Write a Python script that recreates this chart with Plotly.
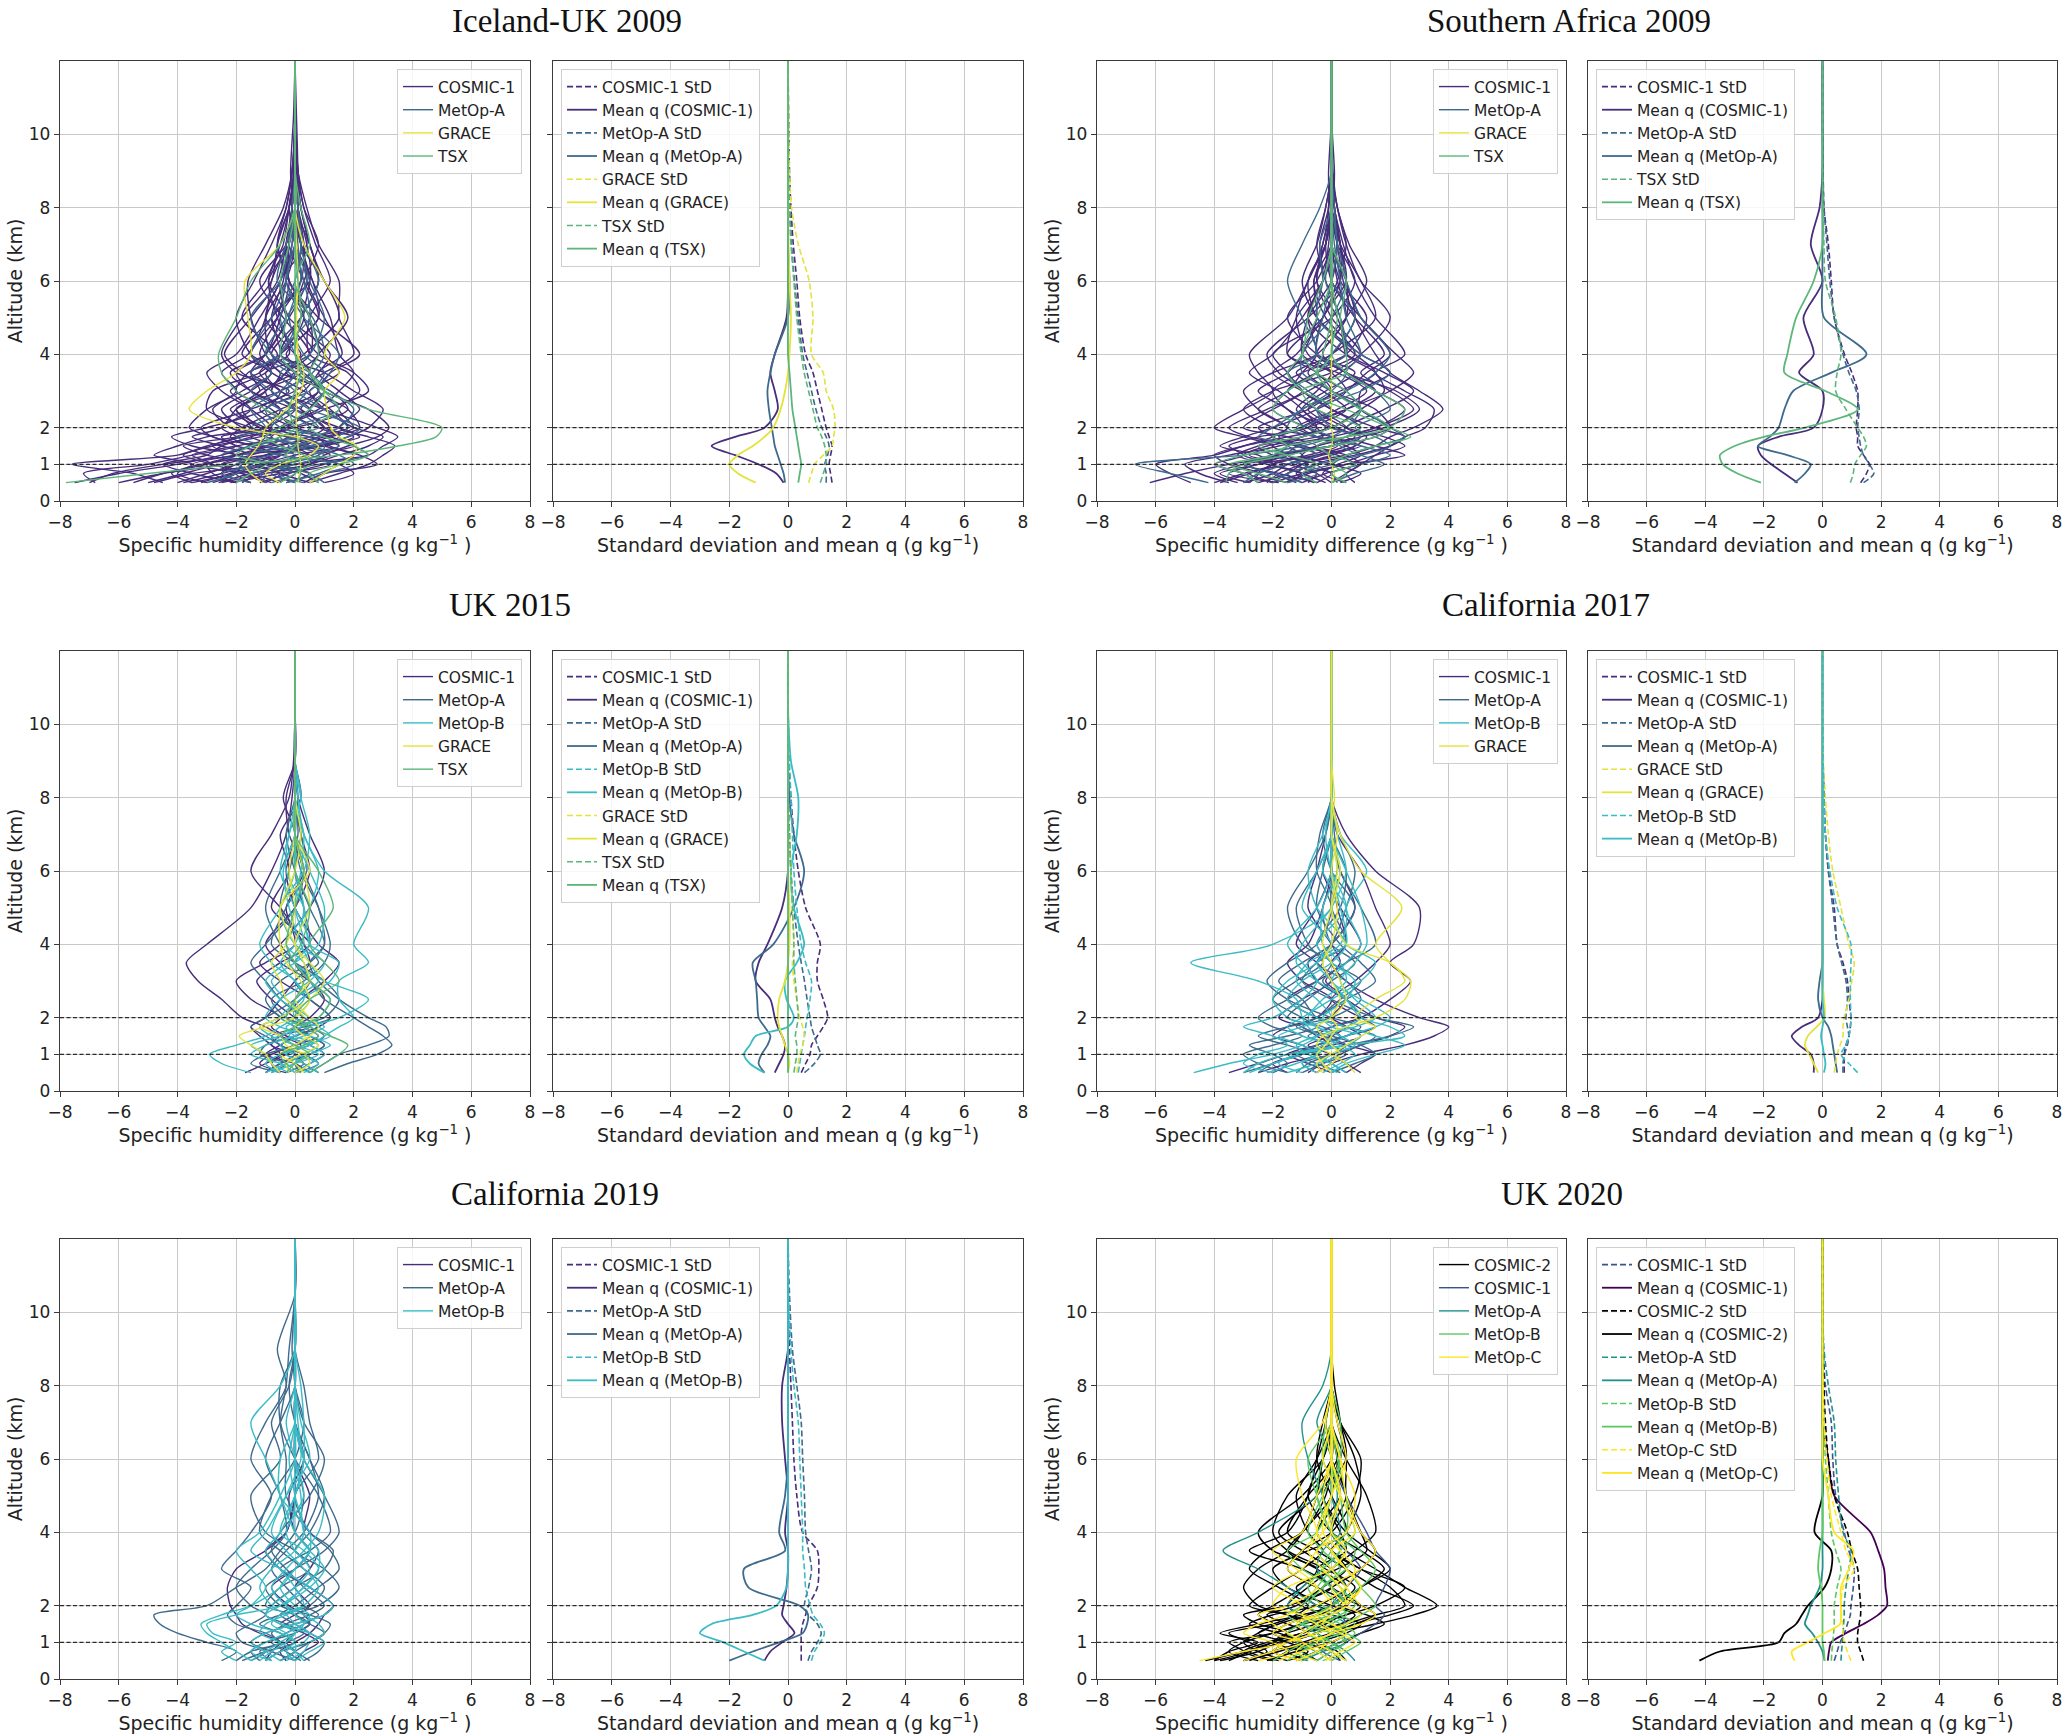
import plotly.graph_objects as go

W, H = 2067, 1736

# altitude levels (km) shared by every profile
ALT = [0.5, 0.75, 1.0, 1.25, 1.5, 1.75, 2.0, 2.5, 3.0, 3.5, 4.0, 5.0, 6.0, 7.0, 8.0, 9.0, 10.5, 12.0]
REF_ALT = [1, 2]
X_TICKS = [-8, -6, -4, -2, 0, 2, 4, 6, 8]
Y_TICKS = [0, 1, 2, 4, 6, 8, 10]

SAT_COLORS = {"COSMIC-1": "#472d7b", "MetOp-A": "#3e6a8c", "MetOp-B": "#3bbcc5",
              "GRACE": "#e5e23b", "TSX": "#5db67a"}
SAT_COLORS_2020 = {"COSMIC-2": "#000000", "COSMIC-1": "#3b528b", "MetOp-A": "#21918c",
                   "MetOp-B": "#5ec962", "MetOp-C": "#fde725"}
MEAN_COLORS_2020 = {"COSMIC-2": "#000000", "COSMIC-1": "#440154", "MetOp-A": "#21918c",
                    "MetOp-B": "#5ec962", "MetOp-C": "#fde725"}

# ---------------- Iceland-UK 2009 ----------------
ICE_C1 = [
    [-7.5, -6.0, -4.0, -2.5, -1.5, -1.0, -1.8, -2.5, -1.5, -0.8, -1.2, -0.6, -0.3, -0.2, -0.1, -0.05, 0.0, 0.0],
    [-6.8, -7.2, -5.0, -3.5, -2.0, -2.8, -3.6, -3.0, -2.0, -2.5, -1.6, -1.0, -0.8, -0.3, -0.1, -0.15, -0.05, 0.0],
    [-4.5, -5.5, -7.6, -4.0, -3.0, -2.0, -2.5, -1.5, -2.2, -1.0, -0.5, -0.8, -0.4, -0.2, 0.0, 0.0, 0.0, 0.0],
    [-3.0, -4.0, -3.5, -4.8, -4.0, -3.0, -1.5, -2.0, -1.0, -1.8, -2.4, -1.5, -0.6, -0.3, -0.1, 0.0, 0.0, 0.0],
    [-2.0, -2.8, -3.0, -2.0, -3.5, -4.2, -3.0, -1.0, -0.5, -1.5, -1.0, -0.3, -0.9, -0.4, -0.2, 0.0, 0.0, 0.0],
    [-1.5, -2.0, -1.0, -2.5, -1.5, -0.8, -1.5, -3.0, -2.8, -1.2, -0.6, -1.8, -1.0, -0.5, -0.2, -0.05, 0.0, 0.0],
    [-1.0, -0.5, -1.5, -0.5, -2.0, -2.5, -1.0, -0.5, -1.5, -2.0, -1.0, -0.5, -0.2, -0.6, -0.3, -0.1, 0.0, 0.0],
    [-0.5, -1.5, -2.5, -1.5, -0.5, 0.5, 1.0, 0.2, -0.8, -0.3, 0.5, -0.4, -1.2, -0.3, -0.1, 0.0, 0.0, 0.0],
    [0.0, -0.8, 0.5, 1.5, 2.5, 3.0, 2.0, 1.0, 0.5, 1.5, 1.0, 0.3, 0.5, 0.2, 0.1, 0.1, 0.05, 0.0],
    [0.5, 1.5, 2.5, 3.0, 3.4, 2.5, 1.5, 2.2, 1.5, 0.8, 1.6, 1.0, 0.4, 0.3, 0.1, 0.0, 0.0, 0.0],
    [-2.5, -1.0, 0.5, 1.0, 1.8, 2.8, 3.2, 2.5, 1.0, 0.5, 0.8, 1.8, 1.0, 0.5, 0.2, 0.05, 0.0, 0.0],
    [-3.5, -2.0, -0.5, 0.5, 0.0, 1.0, 2.0, 1.5, 2.2, 1.8, 0.5, 0.5, 1.2, 0.7, 0.3, 0.1, 0.0, 0.0],
    [-1.2, -0.2, 1.0, 2.0, 1.0, 0.0, -0.5, 0.8, 1.5, 2.0, 1.5, 1.2, 0.6, 0.2, 0.0, 0.0, 0.0, 0.0],
    [-4.0, -3.0, -2.0, -1.0, 0.5, 1.5, 0.8, -0.5, -1.0, 0.2, -0.3, 0.8, 0.3, -0.2, 0.0, 0.0, 0.0, 0.0],
    [-5.5, -4.5, -3.0, -2.0, -1.0, -0.2, 0.2, -1.0, 0.3, 0.8, 1.2, -0.2, -0.5, 0.4, 0.2, 0.0, 0.0, 0.0],
    [-0.3, 0.5, -0.5, -1.0, 0.8, 1.8, 2.5, 3.0, 2.0, 1.0, -0.5, 0.2, 0.8, 0.5, 0.0, 0.0, 0.0, 0.0],
    [-2.0, -3.5, -4.5, -3.0, -2.5, -1.5, -0.8, -1.5, -2.5, -3.0, -2.0, -1.2, -0.5, -0.2, -0.1, 0.0, 0.0, 0.0],
    [-3.8, -2.5, -1.5, -3.0, -3.8, -2.0, -1.0, 0.0, -0.8, -0.5, -1.5, -2.0, -1.4, -0.8, -0.3, -0.1, 0.0, 0.0],
    [0.8, 0.2, -1.0, 0.0, 1.5, 0.5, -1.0, -2.0, -0.5, 0.5, 0.0, -1.0, -0.5, 0.0, 0.1, 0.0, 0.0, 0.0],
    [-1.8, -1.2, 0.0, 2.5, 3.0, 3.5, 2.8, 1.0, -0.5, -1.0, 0.5, 0.5, -0.2, -0.6, -0.2, 0.0, 0.0, 0.0],
    [-6.0, -4.5, -2.5, -1.5, -2.5, -3.5, -2.5, -2.0, -1.0, -0.3, 0.3, 1.5, 1.0, 0.2, 0.0, 0.0, 0.0, 0.0],
    [-2.8, -2.0, -1.8, -1.0, -0.2, -1.0, -2.2, -2.8, -1.8, -0.8, -1.8, -0.8, 0.2, 0.0, -0.2, 0.0, 0.0, 0.0],
    [-0.8, -1.8, -3.5, -2.0, 1.0, 2.0, 1.0, 0.5, 1.0, -0.5, -1.0, -1.5, -1.6, -1.0, -0.4, -0.1, 0.0, 0.0],
    [1.0, 2.0, 1.5, 0.5, -0.5, -1.5, -0.5, 1.0, 2.5, 2.0, 0.8, 0.0, 0.3, 0.8, 0.3, 0.1, 0.0, 0.0],
    [-4.8, -3.5, -1.0, 0.0, -1.2, -2.8, -3.2, -1.5, -0.2, -2.0, -2.5, -1.8, -0.8, -0.6, -0.2, 0.0, 0.0, 0.0],
    [-2.2, -0.5, 1.2, 0.8, 2.0, 1.2, 0.0, -1.2, 0.0, 1.0, 2.0, 1.5, 1.5, 0.8, 0.4, 0.1, 0.0, 0.0],
    [-3.2, -2.2, -1.2, -0.5, -1.5, -2.2, -1.8, -0.5, 0.8, 0.3, -0.8, -1.0, -0.3, 0.0, 0.0, 0.0, 0.0, 0.0],
    [-1.5, -2.5, -2.0, -0.5, 0.5, -0.3, -1.2, -1.8, -1.2, 0.0, 0.8, 0.5, -0.2, -0.3, -0.1, 0.0, 0.0, 0.0],
    [0.3, 1.0, 2.8, 2.2, 1.2, 0.8, 1.8, 1.2, 0.3, -0.8, -1.5, -0.6, 0.2, 0.3, 0.1, 0.0, 0.0, 0.0],
    [-5.0, -3.8, -2.8, -3.5, -2.0, -0.5, -1.2, -2.2, -1.2, -1.5, -0.5, 0.3, -0.3, -0.1, 0.0, 0.0, 0.0, 0.0],
    [-0.6, 0.0, -0.8, -2.0, -2.8, -1.8, 0.0, 1.8, 1.2, -0.3, 0.2, -0.8, 0.5, 0.4, 0.1, 0.0, 0.0, 0.0],
    [-2.6, -1.5, 0.0, 1.2, 0.3, -0.8, -0.3, 0.5, -0.5, -1.2, -0.5, 0.8, 0.6, 0.0, -0.1, 0.0, 0.0, 0.0],
    [-7.0, -6.2, -4.5, -2.0, -0.8, 0.8, 1.2, 0.0, -1.5, -2.2, -1.0, -0.2, 0.4, 0.2, 0.0, 0.0, 0.0, 0.0],
    [0.5, -0.5, -1.2, -0.8, 0.2, 1.2, 2.2, 1.8, 0.8, 1.2, 2.2, 0.8, -0.2, -0.3, 0.0, 0.0, 0.0, 0.0],
    [-1.0, -1.8, -2.8, -3.8, -2.8, -1.2, -0.2, -0.8, -2.0, -1.6, -0.2, -0.6, -0.9, -0.2, 0.0, 0.0, 0.0, 0.0],
    [-3.5, -4.2, -3.2, -1.0, 0.8, 2.2, 1.5, 0.2, 0.8, 0.0, -0.8, 0.2, 0.8, 0.5, 0.2, 0.1, 0.0, 0.0],
]
ICE_MA = [
    [-1.5, -2.5, -1.0, 0.5, 1.5, 1.0, -0.5, -1.0, 0.5, 1.0, 0.3, -0.2, 0.2, 0.1, 0.0, 0.0, 0.0, 0.0],
    [0.5, 1.0, 2.0, 1.5, 0.5, -1.0, -1.5, 0.0, 1.0, 0.5, -0.5, 0.5, 0.3, 0.0, 0.0, 0.0, 0.0, 0.0],
    [-3.0, -2.0, -1.5, -2.5, -1.5, 0.0, 0.5, -0.5, -1.5, -0.8, -1.5, -0.8, -0.3, -0.1, 0.0, 0.0, 0.0, 0.0],
    [0.0, -0.5, 0.8, 2.5, 2.0, 1.5, 1.8, 1.0, 0.0, -0.5, 0.5, 1.0, 0.5, 0.2, 0.1, 0.0, 0.0, 0.0],
    [-0.8, 0.0, -1.0, -1.8, 0.0, 0.8, 0.0, 1.5, 0.8, 1.2, 1.5, 0.3, -0.3, 0.0, 0.0, 0.0, 0.0, 0.0],
    [1.0, 0.5, -0.5, 0.0, -1.0, -2.0, -1.0, -1.5, -0.5, 0.0, -0.8, -1.5, -0.5, -0.2, -0.1, 0.0, 0.0, 0.0],
    [-2.0, -1.5, 0.0, 1.0, 0.0, -0.5, 0.8, 0.0, -0.8, -1.5, -0.5, 0.2, 0.8, 0.3, 0.1, 0.0, 0.0, 0.0],
    [-0.3, 0.8, 1.5, -0.5, -1.5, 0.5, 1.5, 2.0, 1.2, 0.2, 0.0, -0.5, 0.0, 0.2, 0.0, 0.0, 0.0, 0.0],
    [-1.0, -1.2, -2.0, -0.8, 0.5, 1.8, 2.2, 0.5, -0.3, 0.6, 1.0, 0.6, -0.6, -0.3, 0.0, 0.0, 0.0, 0.0],
    [0.3, -0.8, -0.3, 0.8, 1.0, -0.2, -0.8, -0.2, 0.4, -0.2, -1.0, -0.3, 0.4, 0.0, 0.0, 0.0, 0.0, 0.0],
]
ICE_GR = [
    [0.1, 0.15, 0.2, 0.15, 0.1, 0.1, 0.05, 0.05, 0.05, 0.1, 0.1, 0.05, 0.1, 0.05, 0.0, 0.0, 0.0, 0.0],
    [-1.1, -1.5, -1.7, -1.5, -1.25, -1.1, -1.0, -0.3, 0.2, 0.3, 0.1, 0.0, 0.1, 0.0, 0.0, 0.0, 0.0, 0.0],
    [-0.5, -1.0, -0.5, 0.5, 0.8, 0.0, -2.0, -3.6, -3.0, -2.0, -1.5, -1.6, -1.7, -0.5, 0.0, 0.0, 0.0, 0.0],
    [0.5, 1.0, 1.5, 2.0, 2.1, 1.5, 1.2, 1.1, 1.0, 1.5, 1.0, 1.7, 1.0, 0.3, 0.0, 0.0, 0.0, 0.0],
]
ICE_TSX = [
    [-7.8, -5.0, -2.0, 1.5, 3.5, 4.8, 5.0, 2.5, 1.0, 0.0, -0.5, -0.3, -0.5, -0.2, 0.0, 0.0, 0.0, 0.0],
    [-0.5, 0.0, 0.5, 0.3, -0.5, -1.0, -0.5, 0.5, 1.0, 0.5, 0.0, 0.2, 0.1, 0.0, 0.0, 0.0, 0.0, 0.0],
    [-2.0, -1.5, -1.0, -2.0, -1.5, -0.5, 0.0, -1.0, -2.0, -2.5, -2.6, -2.0, -1.5, -0.5, 0.0, 0.0, 0.0, 0.0],
    [0.8, 0.5, 1.5, 2.5, 2.0, 1.0, 0.5, 1.5, 1.0, 0.5, 0.8, 0.5, 0.0, 0.5, 0.2, 0.0, 0.0, 0.0],
    [0.0, 0.2, 0.0, -0.3, 0.0, 0.2, 0.0, -0.2, 0.0, 0.2, 0.0, 0.0, 0.0, 0.0, 0.0, 0.0, 0.0, 0.0],
]
ICE_STD = {
    "COSMIC-1": [1.5, 1.45, 1.4, 1.45, 1.5, 1.4, 1.3, 1.15, 1.0, 0.85, 0.6, 0.4, 0.3, 0.18, 0.1, 0.05, 0.02, 0.0],
    "MetOp-A": [1.3, 1.3, 1.25, 1.35, 1.4, 1.3, 1.15, 0.95, 0.8, 0.65, 0.5, 0.35, 0.22, 0.12, 0.06, 0.03, 0.01, 0.0],
    "GRACE": [0.7, 0.8, 0.9, 1.2, 1.5, 1.55, 1.6, 1.55, 1.3, 1.2, 0.8, 0.85, 0.72, 0.35, 0.12, 0.05, 0.02, 0.0],
    "TSX": [1.1, 1.2, 1.3, 1.3, 1.25, 1.15, 1.0, 0.85, 0.7, 0.55, 0.45, 0.3, 0.2, 0.1, 0.05, 0.02, 0.0, 0.0],
}
ICE_MEAN = {
    "COSMIC-1": [-0.15, -0.4, -1.0, -1.8, -2.6, -1.8, -0.8, -0.35, -0.45, -0.6, -0.45, -0.05, 0.0, 0.0, 0.0, 0.0, 0.0, 0.0],
    "MetOp-A": [-0.1, -0.15, -0.25, -0.35, -0.45, -0.5, -0.55, -0.65, -0.7, -0.6, -0.45, 0.0, 0.05, 0.0, 0.0, 0.0, 0.0, 0.0],
    "GRACE": [-1.1, -1.7, -2.0, -1.7, -1.2, -0.8, -0.5, -0.25, -0.1, 0.0, 0.05, 0.1, 0.05, 0.02, 0.0, 0.0, 0.0, 0.0],
    "TSX": [0.35, 0.4, 0.45, 0.4, 0.35, 0.3, 0.25, 0.15, 0.1, 0.05, 0.0, 0.0, 0.0, 0.0, 0.0, 0.0, 0.0, 0.0],
}

# ---------------- Southern Africa 2009 ----------------
SA_C1 = [
    [-4.8, -5.5, -6.0, -4.0, -3.0, -2.0, -1.5, -2.5, -1.5, -1.0, -0.5, -0.8, -0.3, -0.1, 0.0, 0.0, 0.0, 0.0],
    [-3.5, -4.5, -5.0, -3.5, -2.0, -3.0, -4.0, -3.0, -2.0, -2.5, -2.8, -1.5, -0.8, -0.3, -0.1, -0.1, 0.0, 0.0],
    [-2.5, -3.0, -4.0, -3.0, -3.5, -2.5, -1.0, -1.5, -2.5, -1.5, -1.0, -0.5, -0.6, -0.2, 0.0, 0.0, 0.0, 0.0],
    [-1.5, -2.5, -2.0, -1.0, -1.5, -2.0, -2.5, -0.8, 0.0, -0.5, -1.5, -1.2, -0.3, 0.0, 0.0, 0.0, 0.0, 0.0],
    [-1.0, -1.5, -0.5, -2.0, -2.5, -1.0, 0.0, 1.0, 0.5, -0.5, 0.5, 0.2, -0.5, -0.2, 0.0, 0.0, 0.0, 0.0],
    [-0.5, 0.0, -1.0, 0.5, 1.5, 2.0, 2.8, 3.8, 3.0, 2.0, 1.5, 0.8, 0.4, 0.2, 0.0, 0.0, 0.0, 0.0],
    [0.0, 0.5, 1.0, 1.5, 2.0, 2.5, 3.2, 3.5, 2.5, 1.5, 2.5, 1.5, 0.8, 0.4, 0.1, 0.1, 0.0, 0.0],
    [0.5, -0.3, 0.2, 1.0, 0.5, -0.5, -1.0, 0.5, 2.0, 2.8, 2.2, 1.0, 0.5, 0.3, 0.1, 0.0, 0.0, 0.0],
    [-2.0, -1.0, 0.5, 2.5, 1.5, 0.5, 1.5, 2.5, 1.5, 0.5, -0.5, 0.5, 1.2, 0.6, 0.2, 0.0, 0.0, 0.0],
    [-3.0, -2.0, -1.5, -0.5, 0.5, 1.0, 0.0, -1.5, -2.0, -1.0, 0.5, 1.2, 0.3, 0.0, 0.0, 0.0, 0.0, 0.0],
    [-1.8, -3.5, -2.5, -1.5, -0.5, -1.5, -3.0, -2.0, -0.8, 0.3, 1.0, 0.0, -0.5, -0.3, 0.0, 0.0, 0.0, 0.0],
    [-0.8, -0.5, -1.5, -2.8, -1.8, 0.0, 1.0, 0.0, -1.0, -2.0, -1.2, -0.3, 0.2, 0.5, 0.2, 0.05, 0.0, 0.0],
    [0.3, 1.0, 0.0, -1.0, -0.5, 1.0, 2.0, 1.0, 1.0, 2.0, 1.0, -0.5, -1.0, -0.5, -0.2, 0.0, 0.0, 0.0],
    [-4.0, -3.0, -2.0, -2.5, -3.8, -3.0, -2.0, -0.5, 0.5, 0.0, -1.0, -0.8, 0.0, 0.2, 0.1, 0.0, 0.0, 0.0],
    [-2.2, -1.8, -1.0, 0.0, -1.0, -2.0, -1.5, -2.5, -3.0, -2.0, -0.5, 0.5, 0.5, 0.0, -0.1, 0.0, 0.0, 0.0],
    [-1.2, -2.0, -3.0, -2.0, 0.0, 1.5, 2.0, 1.5, 0.0, -0.8, 0.0, 1.5, 1.0, 0.3, 0.0, 0.0, 0.0, 0.0],
    [0.8, 0.5, 1.0, 0.5, -0.5, 0.5, 1.5, 2.8, 2.0, 1.0, 1.8, 0.8, 0.0, -0.2, 0.0, 0.0, 0.0, 0.0],
    [-3.2, -4.0, -3.0, -1.5, -2.0, -1.0, -0.5, -1.0, -1.8, -2.8, -2.0, -1.0, -0.3, -0.4, -0.1, 0.0, 0.0, 0.0],
    [-0.2, -1.0, -2.0, -0.5, 1.0, 0.0, -0.8, 0.5, 1.5, 0.5, -0.5, -0.3, 0.5, 0.3, 0.0, 0.0, 0.0, 0.0],
    [-2.8, -2.5, -3.5, -4.0, -3.0, -1.5, 0.0, 1.0, 1.8, 1.5, 0.5, 0.3, -0.2, -0.5, -0.2, 0.0, 0.0, 0.0],
    [-1.5, -0.8, 0.5, 1.5, 2.5, 1.8, 0.5, -0.5, 0.5, 1.2, 2.0, 1.0, 0.0, 0.0, 0.1, 0.0, 0.0, 0.0],
    [-0.6, -1.2, -0.8, -1.5, -1.2, -0.3, -0.5, -1.2, -0.5, 0.0, -0.8, -1.2, -0.8, -0.2, 0.0, 0.0, 0.0, 0.0],
    [-2.5, -1.5, -1.0, 0.0, 0.8, -0.5, -2.0, -3.0, -2.0, 0.0, 1.0, 2.0, 1.0, 0.5, 0.2, 0.0, 0.0, 0.0],
    [0.2, 0.0, -0.5, 0.8, 2.0, 2.5, 1.5, 0.0, -1.0, -1.5, -2.0, 0.0, 0.8, 0.2, 0.0, 0.0, 0.0, 0.0],
    [-2.0, -2.8, -1.5, -0.5, -1.2, -2.8, -3.5, -2.2, -1.0, -1.8, -2.2, -0.8, 0.3, 0.0, 0.0, 0.0, 0.0, 0.0],
    [-0.5, -1.8, -3.0, -1.8, 0.0, 0.8, 0.2, -0.8, 0.3, 1.5, 0.8, -0.5, -0.8, -0.2, 0.0, 0.0, 0.0, 0.0],
    [-6.2, -5.0, -3.5, -1.5, -0.5, 0.5, 1.8, 3.0, 2.2, 0.5, -0.3, 0.5, 0.2, 0.0, 0.0, 0.0, 0.0, 0.0],
    [-1.0, -0.2, 0.8, 0.2, -1.0, -1.8, -0.8, 0.5, -0.3, -1.2, 0.0, 0.8, 0.5, 0.3, 0.0, 0.0, 0.0, 0.0],
    [-3.8, -2.8, -2.0, -3.0, -2.2, -0.5, 0.5, -0.5, -1.5, -0.5, 0.8, -0.2, -0.6, 0.0, 0.0, 0.0, 0.0, 0.0],
    [0.0, -0.5, -1.2, -0.3, 0.8, 1.2, 0.5, 1.8, 2.8, 1.8, 0.5, -0.8, -0.3, 0.2, 0.0, 0.0, 0.0, 0.0],
    [-1.6, -1.0, -2.2, -3.2, -2.5, -1.0, -0.2, -1.0, -0.2, 0.8, -0.5, -1.5, -0.5, 0.0, 0.0, 0.0, 0.0, 0.0],
    [-2.8, -3.8, -2.5, -0.8, 0.2, -0.5, -1.2, 0.2, 1.2, 0.2, -1.5, -0.3, 0.3, 0.3, 0.1, 0.0, 0.0, 0.0],
]
SA_MA = [
    [-4.2, -5.5, -6.7, -3.0, -1.0, 0.0, 0.5, 1.0, 0.0, -0.5, 0.5, 0.3, -0.2, 0.0, 0.0, 0.0, 0.0, 0.0],
    [-2.0, -1.5, -0.5, 1.0, 2.0, 1.5, 0.8, 2.0, 1.5, 0.5, 1.0, 0.5, 0.3, 0.1, 0.0, 0.0, 0.0, 0.0],
    [-1.0, -2.0, -3.0, -2.0, -1.5, -2.0, -1.0, 0.0, -0.8, -1.5, -0.5, -1.0, -1.5, -1.0, -0.4, 0.0, 0.0, 0.0],
    [0.5, 0.0, 1.0, 2.0, 1.0, -0.5, -1.5, -1.0, 0.5, 1.5, 2.0, 1.0, 0.5, 0.0, 0.0, 0.0, 0.0, 0.0],
    [-3.0, -2.5, -1.5, -0.5, -1.0, -2.5, -2.0, -1.0, 0.0, 0.5, -0.5, -0.3, 0.0, 0.2, 0.0, 0.0, 0.0, 0.0],
    [-0.5, -1.0, 0.0, 0.5, 1.5, 2.5, 2.0, 1.0, 0.0, -1.0, -1.0, 0.0, 0.5, 0.2, 0.1, 0.0, 0.0, 0.0],
    [-1.5, -0.5, -1.0, -2.0, 0.0, 1.0, 0.0, -0.5, 1.0, 2.0, 1.0, -0.5, -0.3, -0.4, 0.0, 0.0, 0.0, 0.0],
    [0.0, 0.8, 1.8, 1.0, 0.3, 0.0, -0.8, -2.0, -1.5, -0.5, 0.0, 0.8, 0.0, 0.0, 0.0, 0.0, 0.0, 0.0],
]
SA_GR = [
    [0.0, 0.1, 0.0, -0.1, 0.0, 0.05, 0.0, 0.0, 0.0, 0.0, 0.0, 0.0, 0.0, 0.0, 0.0, 0.0, 0.0, 0.0],
]
SA_TSX = [
    [-3.6, -3.5, -3.0, -1.5, 0.0, 1.5, 2.0, 1.0, 0.0, -0.5, -0.3, 0.0, 0.0, 0.0, 0.0, 0.0, 0.0, 0.0],
    [-1.5, -2.5, -3.5, -2.0, -1.5, 0.5, 2.0, 2.5, 1.5, 0.5, 0.0, 0.2, 0.0, 0.0, 0.0, 0.0, 0.0, 0.0],
    [-0.5, -1.0, -0.5, -1.5, -2.5, -1.0, 0.0, 1.0, 0.5, -0.5, -1.0, -0.5, 0.0, 0.0, 0.0, 0.0, 0.0, 0.0],
    [0.0, 0.5, 0.0, 0.5, 1.5, 2.7, 2.0, 0.5, -1.0, -1.5, -1.0, -0.8, -0.3, 0.0, 0.0, 0.0, 0.0, 0.0],
    [-2.5, -3.0, -4.0, -3.0, -1.5, -2.0, -1.0, -2.0, -1.5, -0.5, 0.0, 0.0, 0.0, 0.0, 0.0, 0.0, 0.0, 0.0],
    [0.5, 0.0, 0.8, 0.0, -0.5, 0.5, 1.0, -0.5, -1.0, 0.5, 0.5, 0.3, 0.5, 0.0, 0.0, 0.0, 0.0, 0.0],
]
SA_STD = {
    "COSMIC-1": [1.3, 1.5, 1.6, 1.4, 1.2, 1.2, 1.15, 1.2, 1.2, 1.0, 0.75, 0.4, 0.3, 0.2, 0.05, 0.02, 0.0, 0.0],
    "MetOp-A": [1.4, 1.75, 1.6, 1.4, 1.3, 1.25, 1.2, 1.25, 1.15, 0.9, 0.7, 0.4, 0.25, 0.15, 0.05, 0.02, 0.0, 0.0],
    "TSX": [0.95, 1.05, 1.1, 1.3, 1.5, 1.4, 1.2, 0.8, 0.45, 0.5, 0.63, 0.45, 0.1, 0.05, 0.02, 0.0, 0.0, 0.0],
}
SA_MEAN = {
    "COSMIC-1": [-0.85, -1.3, -1.75, -2.1, -2.2, -1.5, -0.3, 0.0, 0.0, -0.8, -0.3, -0.65, 0.0, -0.4, -0.1, 0.0, 0.0, 0.0],
    "MetOp-A": [-0.95, -0.6, -0.4, -1.2, -2.2, -1.8, -1.5, -1.3, -1.0, 0.3, 1.5, 0.05, 0.0, 0.0, 0.0, 0.0, 0.0, 0.0],
    "TSX": [-2.1, -2.9, -3.4, -3.5, -3.0, -2.0, -0.6, 1.2, 0.1, -1.3, -1.2, -0.9, -0.3, 0.0, 0.0, 0.0, 0.0, 0.0],
}

# ---------------- UK 2015 ----------------
UK15_C1 = [
    [-0.5, -0.8, -0.3, 0.2, -0.5, -1.0, -1.8, -2.5, -3.3, -3.7, -3.0, -1.5, -0.8, -0.3, -0.1, 0.0, 0.0, 0.0],
    [-1.7, -1.0, -0.5, -0.8, -1.2, -1.5, -1.0, -0.5, 0.0, 0.5, 0.3, -0.5, -1.5, -0.8, -0.2, -0.05, 0.0, 0.0],
    [0.0, 0.5, 1.0, 0.5, -0.3, -0.8, -0.5, -1.5, -2.0, -1.0, 0.0, -0.3, 0.3, -0.2, -0.3, 0.0, 0.0, 0.0],
    [-1.0, -0.5, 0.5, 1.0, 0.5, 0.0, 0.5, 1.0, 0.5, -0.5, -1.0, 0.0, 0.5, 0.2, 0.0, 0.0, 0.0, 0.0],
    [0.5, 0.0, -1.0, -0.5, 0.0, 0.8, 1.2, 0.5, -0.5, -1.2, -0.5, 0.5, 1.0, 0.5, 0.1, 0.0, 0.0, 0.0],
    [-0.3, -1.2, -0.8, 0.0, 0.8, 0.3, -0.3, 0.2, 1.0, 1.5, 0.8, 0.0, -0.3, 0.0, -0.4, 0.0, 0.0, 0.0],
    [0.8, 0.3, 0.0, -0.8, -0.5, 0.5, 0.0, -0.8, -1.3, -0.5, 0.5, -0.8, -0.2, -0.5, 0.2, 0.0, 0.0, 0.0],
]
UK15_MA = [
    [1.0, 1.8, 2.8, 3.3, 3.0, 2.5, 2.0, 1.0, 0.5, 0.0, 0.5, 0.3, 0.0, 0.2, 0.0, 0.0, 0.0, 0.0],
    [0.5, 1.0, 1.5, 2.5, 3.2, 3.1, 2.5, 1.5, 0.8, 0.5, 1.0, 0.8, 0.3, 0.0, 0.0, 0.0, 0.0, 0.0],
    [-1.0, -0.5, 0.0, -0.5, -1.0, -1.5, -1.0, 0.0, 0.5, 0.0, -0.5, -1.0, -0.5, 0.0, 0.0, 0.0, 0.0, 0.0],
    [-0.5, -1.5, -1.0, 0.0, 0.5, 0.0, -0.5, -1.0, -0.5, 0.5, 1.0, 0.5, 0.0, -0.3, 0.0, 0.0, 0.0, 0.0],
    [0.2, 0.0, 0.5, 1.0, 0.5, 0.0, 1.0, 1.5, 1.0, 0.0, -0.8, -0.3, 0.4, 0.2, 0.0, 0.0, 0.0, 0.0],
    [-0.8, -0.3, -1.2, -1.0, 0.0, 0.8, 0.3, -0.5, -1.0, -1.5, -1.0, 0.0, 0.3, 0.0, 0.0, 0.0, 0.0, 0.0],
    [0.0, 0.8, 0.3, -0.5, -0.8, 0.3, 1.2, 0.5, 0.0, 0.8, 0.3, -0.5, -0.2, 0.1, 0.0, 0.0, 0.0, 0.0],
    [-0.3, 0.3, -0.3, 0.5, 1.0, 0.5, -0.3, -0.8, 0.3, 1.0, 1.2, 0.8, 0.2, 0.0, 0.1, 0.0, 0.0, 0.0],
]
UK15_MB = [
    [-1.5, -2.5, -2.9, -2.0, -1.0, -0.5, 0.0, 0.5, 0.0, -0.5, 0.0, 0.3, 0.0, 0.0, 0.0, 0.0, 0.0, 0.0],
    [-0.5, -1.0, -0.5, 0.5, 1.0, 1.5, 2.0, 1.5, 1.5, 2.5, 2.0, 2.5, 1.0, 0.3, 0.0, 0.0, 0.0, 0.0],
    [0.0, -0.5, -1.5, -1.0, 0.0, 0.5, 1.5, 2.5, 1.0, 0.0, 0.5, 0.0, -0.5, -0.2, 0.0, 0.0, 0.0, 0.0],
    [0.5, 0.0, 0.5, 1.2, 0.5, -0.5, -1.0, -0.5, 0.5, 1.0, 0.0, -0.5, 0.3, 0.5, 0.2, 0.0, 0.0, 0.0],
    [-0.8, 0.0, 0.8, 0.0, -0.8, -1.2, -0.5, 0.3, 0.0, -0.8, -1.2, -0.5, 0.0, 0.0, 0.0, 0.0, 0.0, 0.0],
    [0.3, 0.8, 0.0, -0.5, 0.3, 1.0, 0.5, -0.3, -0.8, 0.0, 0.8, 1.0, 0.5, 0.0, 0.0, 0.0, 0.0, 0.0],
    [-0.2, -0.8, -1.0, -1.5, -0.5, 0.2, 0.8, 1.2, 0.5, 0.3, -0.3, 0.5, 0.8, 0.3, 0.1, 0.0, 0.0, 0.0],
    [0.8, 0.3, -0.3, 0.3, 1.2, 0.8, 0.0, 0.0, 0.8, 0.5, 0.2, -0.2, -0.4, 0.0, 0.0, 0.0, 0.0, 0.0],
    [-1.0, -0.3, 0.3, 0.8, 0.0, -0.3, 0.3, -0.5, -1.0, -0.3, 0.3, 0.0, 0.2, 0.3, 0.0, 0.0, 0.0, 0.0],
    [0.0, 0.5, 1.0, 0.5, -0.2, 0.0, -0.5, 0.2, 1.2, 1.5, 0.5, 0.3, -0.3, -0.2, 0.2, 0.0, 0.0, 0.0],
]
UK15_GR = [
    [-0.5, -0.8, -1.0, -1.5, -1.9, -1.0, 0.0, 0.5, 0.2, -0.3, -0.5, -0.5, 0.0, 0.2, 0.0, 0.0, 0.0, 0.0],
    [0.3, 0.0, -0.5, 0.0, 0.5, 0.8, 0.5, 0.0, 0.5, 0.3, 0.0, -0.5, 0.5, 0.0, 0.0, 0.0, 0.0, 0.0],
    [0.0, 0.5, 0.3, -0.3, -0.5, -1.2, -0.5, 0.5, 1.0, 0.5, 0.0, 0.5, 0.3, 0.0, 0.0, 0.0, 0.0, 0.0],
    [-0.2, -0.3, 0.2, 0.8, 0.3, 0.0, 0.3, -0.3, -0.5, -0.8, -0.3, 0.0, -0.2, 0.0, 0.0, 0.0, 0.0, 0.0],
]
UK15_TSX = [
    [0.5, 1.0, 1.5, 1.8, 1.2, 0.5, 0.0, 0.5, 1.5, 1.0, 0.5, 1.3, 0.8, 0.0, 0.0, 0.0, 0.0, 0.0],
    [-0.3, 0.0, 0.5, 0.0, -0.5, 0.0, 0.8, 1.2, 0.5, 0.0, -0.3, 0.0, 0.3, 0.0, 0.0, 0.0, 0.0, 0.0],
    [0.2, -0.3, -0.5, 0.3, 0.8, 0.3, -0.3, 0.0, 0.3, -0.2, 0.2, 0.5, 0.0, 0.0, 0.0, 0.0, 0.0, 0.0],
]
UK15_STD = {
    "COSMIC-1": [0.45, 0.6, 0.75, 0.8, 1.0, 1.2, 1.35, 1.2, 1.0, 1.0, 1.1, 0.6, 0.35, 0.2, 0.1, 0.03, 0.0, 0.0],
    "MetOp-A": [0.56, 0.9, 1.1, 1.0, 0.9, 0.8, 0.75, 0.65, 0.56, 0.45, 0.35, 0.2, 0.1, 0.05, 0.02, 0.0, 0.0, 0.0],
    "MetOp-B": [0.35, 0.4, 0.45, 0.5, 0.56, 0.6, 0.65, 0.75, 0.8, 0.6, 0.45, 0.3, 0.2, 0.15, 0.1, 0.05, 0.0, 0.0],
    "GRACE": [0.3, 0.35, 0.4, 0.5, 0.55, 0.5, 0.4, 0.3, 0.2, 0.15, 0.2, 0.15, 0.1, 0.05, 0.0, 0.0, 0.0, 0.0],
    "TSX": [0.2, 0.25, 0.3, 0.3, 0.25, 0.3, 0.35, 0.3, 0.25, 0.2, 0.2, 0.15, 0.1, 0.05, 0.0, 0.0, 0.0, 0.0],
}
UK15_MEAN = {
    "COSMIC-1": [-0.45, -0.3, -0.15, -0.1, -0.2, -0.35, -0.45, -0.6, -1.1, -1.0, -0.7, -0.2, 0.0, 0.0, 0.0, 0.0, 0.0, 0.0],
    "MetOp-A": [-0.8, -1.0, -0.9, -0.7, -0.6, -0.8, -1.0, -1.05, -1.1, -1.2, -0.5, 0.2, 0.55, 0.2, 0.05, 0.0, 0.0, 0.0],
    "MetOp-B": [-0.8, -1.3, -1.5, -1.3, -1.1, 0.0, 0.2, -0.05, -0.1, 0.3, 0.55, 0.2, 0.1, 0.3, 0.35, 0.1, 0.0, 0.0],
    "GRACE": [0.0, 0.05, 0.0, -0.1, -0.2, -0.3, -0.35, -0.3, -0.1, 0.0, 0.05, 0.05, 0.0, 0.0, 0.0, 0.0, 0.0, 0.0],
    "TSX": [0.0, 0.0, 0.0, 0.01, 0.0, 0.0, 0.0, 0.0, 0.0, 0.0, 0.0, 0.0, 0.0, 0.0, 0.0, 0.0, 0.0, 0.0],
}

# ---------------- California 2017 ----------------
CA17_C1 = [
    [-0.5, 0.0, 1.0, 2.5, 3.5, 4.0, 3.0, 1.5, 0.5, 0.0, 0.5, 0.2, 0.0, 0.0, 0.0, 0.0, 0.0, 0.0],
    [0.5, 1.0, 1.5, 0.5, -0.5, 0.0, 1.0, 2.0, 2.7, 2.0, 2.8, 3.0, 1.5, 0.5, 0.0, 0.0, 0.0, 0.0],
    [-2.5, -1.5, -0.5, -1.0, -2.0, -1.5, -0.5, 0.0, -1.0, -1.5, -0.8, -0.3, 0.0, 0.0, 0.0, 0.0, 0.0, 0.0],
    [-3.5, -2.5, -1.5, 0.0, 1.0, 0.5, -0.5, -1.5, -0.5, 0.5, 1.0, 0.3, -0.3, 0.0, 0.0, 0.0, 0.0, 0.0],
    [0.0, -0.8, -1.5, -0.5, 0.5, 1.5, 1.0, 0.0, 0.8, 1.5, 2.0, 1.5, 1.0, 0.2, 0.0, 0.0, 0.0, 0.0],
    [-1.5, -2.0, -1.0, 0.0, -0.5, -1.0, -1.8, -1.0, 0.0, -0.5, -1.2, -0.5, 0.0, 0.0, 0.0, 0.0, 0.0, 0.0],
    [1.0, 0.5, 0.0, -0.8, 0.0, 0.5, 0.0, 0.5, -0.2, 0.3, 0.0, -0.8, -0.5, -0.2, 0.0, 0.0, 0.0, 0.0],
    [-0.8, -0.3, 0.3, 1.0, 2.0, 2.5, 1.5, 0.5, -0.5, -0.8, 0.0, 0.8, 0.3, 0.0, 0.0, 0.0, 0.0, 0.0],
]
CA17_MA = [
    [-3.0, -2.0, -1.0, 0.5, 2.0, 2.8, 1.5, 0.0, -1.0, -0.5, 0.5, 0.0, 0.0, 0.0, 0.0, 0.0, 0.0, 0.0],
    [-1.5, -2.5, -3.0, -2.0, -1.0, -2.0, -2.5, -1.5, -0.5, 0.0, -1.0, -1.5, -0.8, -0.2, 0.0, 0.0, 0.0, 0.0],
    [0.5, 0.0, -0.5, -1.5, -2.5, -1.5, 0.0, 1.0, 0.5, -0.5, 0.0, 0.5, 0.8, 0.3, 0.0, 0.0, 0.0, 0.0],
    [-0.5, -1.0, 0.0, 1.0, 1.5, 0.5, -0.5, -1.0, -1.8, -1.0, 0.0, 0.8, 0.0, -0.3, 0.0, 0.0, 0.0, 0.0],
    [-2.0, -1.5, -2.0, -2.8, -1.5, -0.5, -1.0, -2.0, -1.2, -0.3, -0.8, -1.2, -0.5, 0.0, 0.0, 0.0, 0.0, 0.0],
    [0.0, 0.8, 1.5, 1.0, 0.0, -1.0, -0.5, 0.5, 1.5, 1.0, 0.3, -0.5, -0.3, 0.0, 0.0, 0.0, 0.0, 0.0],
    [-1.0, -0.3, 0.5, 0.0, -0.8, 0.0, 1.0, 0.5, -0.3, 0.5, 1.5, 1.0, 0.3, 0.0, 0.0, 0.0, 0.0, 0.0],
    [-2.5, -2.0, -1.0, -0.5, 0.5, 1.0, 0.0, -1.5, -2.2, -1.5, -0.5, 0.0, -0.5, -0.4, 0.0, 0.0, 0.0, 0.0],
    [0.3, -0.5, -1.2, -0.5, 0.3, -0.3, -1.5, -0.8, 0.0, 0.8, 0.0, -0.3, 0.2, 0.1, 0.0, 0.0, 0.0, 0.0],
    [-1.2, -0.8, 0.0, 0.5, -0.3, -1.2, -0.5, 0.3, 1.0, 0.0, -0.5, 0.3, 0.5, 0.0, 0.0, 0.0, 0.0, 0.0],
]
CA17_MB = [
    [-4.7, -3.5, -2.0, -1.0, -0.5, -0.8, -1.0, -1.2, -2.5, -4.8, -2.0, 0.0, 0.0, 0.0, 0.0, 0.0, 0.0, 0.0],
    [-3.0, -2.5, -1.5, 0.5, 2.5, 2.0, 1.0, 0.5, 0.0, -0.5, 0.5, 0.3, 0.0, 0.0, 0.0, 0.0, 0.0, 0.0],
    [-2.0, -3.0, -2.5, -1.5, -2.0, -3.0, -2.0, -1.0, -0.5, -1.0, -1.5, -0.5, 0.0, 0.0, 0.0, 0.0, 0.0, 0.0],
    [-0.5, -1.0, -0.5, 0.0, 0.5, 1.5, 2.0, 1.0, 0.0, 0.5, 1.0, 0.5, 1.2, 0.3, 0.0, 0.0, 0.0, 0.0],
    [0.0, 0.5, 1.5, 2.5, 1.5, 0.5, -0.5, -1.5, -1.0, 0.0, 0.5, -0.5, -0.8, -0.3, 0.0, 0.0, 0.0, 0.0],
    [-1.5, -0.5, 0.3, 0.0, -1.0, -1.5, -1.0, 0.0, 1.0, 1.5, 0.5, 0.0, 0.3, 0.0, 0.0, 0.0, 0.0, 0.0],
    [-2.8, -2.0, -1.0, -0.3, 0.0, -0.5, -1.5, -2.0, -1.5, -0.5, 0.0, -1.0, -0.5, 0.0, 0.0, 0.0, 0.0, 0.0],
    [0.5, 0.0, -0.8, -1.2, -0.5, 0.5, 1.0, 0.5, -0.5, -1.2, -1.0, 0.0, 0.5, 0.2, 0.0, 0.0, 0.0, 0.0],
    [-1.0, -1.8, -1.2, 0.5, 1.0, 0.0, -0.3, 0.5, 0.8, 0.0, -0.5, 0.5, 0.0, -0.2, 0.0, 0.0, 0.0, 0.0],
    [-0.3, 0.3, 0.8, 0.3, -0.3, 0.8, 1.5, 0.8, 0.3, 0.8, 1.2, 1.0, 0.5, 0.0, 0.0, 0.0, 0.0, 0.0],
    [-2.2, -1.2, -0.5, -1.0, -1.8, -1.0, 0.0, -0.5, -1.2, -0.8, 0.3, 0.5, -0.3, 0.0, 0.0, 0.0, 0.0, 0.0],
    [0.2, -0.3, 0.0, 0.8, 0.3, -0.5, -0.8, -0.3, 0.5, 0.3, -0.3, -0.3, 0.2, 0.0, 0.0, 0.0, 0.0, 0.0],
]
CA17_GR = [
    [0.8, 0.5, 0.0, -0.5, -0.3, 0.5, 1.5, 2.5, 2.7, 2.0, 1.5, 2.4, 1.0, 0.3, 0.0, 0.0, 0.0, 0.0],
    [-0.3, -0.5, 0.0, 0.5, 1.0, 1.5, 0.8, 1.5, 2.5, 2.0, 0.5, 0.0, 0.2, 0.0, 0.0, 0.0, 0.0, 0.0],
    [0.0, -0.3, -0.5, -0.2, 0.0, 0.2, 0.0, 0.3, 0.0, -0.3, 0.0, 0.2, 0.0, 0.2, 0.0, 0.0, 0.0, 0.0],
    [-0.5, 0.0, 0.3, 0.0, -0.3, -0.5, 0.0, 0.5, 0.3, 0.0, -0.3, 0.0, 0.3, 0.0, 0.1, 0.0, 0.0, 0.0],
]
CA17_STD = {
    "COSMIC-1": [0.74, 0.74, 0.74, 0.8, 0.9, 0.95, 0.97, 0.9, 0.85, 0.7, 0.5, 0.4, 0.2, 0.1, 0.05, 0.02, 0.0, 0.0],
    "MetOp-A": [0.7, 0.7, 0.75, 0.85, 0.9, 0.85, 0.8, 0.85, 0.8, 0.65, 0.5, 0.35, 0.2, 0.1, 0.05, 0.02, 0.0, 0.0],
    "GRACE": [0.4, 0.45, 0.5, 0.6, 0.7, 0.7, 0.74, 0.9, 1.0, 1.08, 0.9, 0.63, 0.35, 0.2, 0.1, 0.03, 0.0, 0.0],
    "MetOp-B": [1.2, 0.9, 0.63, 0.8, 0.9, 0.95, 0.97, 0.95, 0.95, 0.97, 0.97, 0.5, 0.25, 0.1, 0.05, 0.02, 0.0, 0.0],
}
CA17_MEAN = {
    "COSMIC-1": [-0.3, -0.3, -0.4, -0.8, -1.05, -0.7, -0.15, 0.0, 0.0, 0.0, 0.0, 0.0, 0.0, 0.0, 0.0, 0.0, 0.0, 0.0],
    "MetOp-A": [0.5, 0.45, 0.4, 0.35, 0.3, 0.2, 0.0, -0.15, -0.1, 0.0, 0.0, 0.0, 0.0, 0.0, 0.0, 0.0, 0.0, 0.0],
    "GRACE": [-0.15, -0.3, -0.45, -0.6, -0.5, -0.2, 0.07, 0.05, 0.0, 0.0, 0.0, 0.0, 0.0, 0.0, 0.0, 0.0, 0.0, 0.0],
    "MetOp-B": [0.05, 0.1, 0.05, 0.0, -0.05, 0.0, 0.05, 0.0, 0.0, 0.0, 0.0, 0.0, 0.0, 0.0, 0.0, 0.0, 0.0, 0.0],
}

# ---------------- California 2019 ----------------
CA19_C1 = [
    [-0.3, -0.5, 0.0, 0.5, 0.8, 1.0, 1.3, 0.5, -0.5, -1.0, -0.3, 0.0, 0.3, 0.0, 0.0, 0.0, 0.0, 0.0],
    [-1.0, -0.8, -0.5, -1.2, -1.8, -2.0, -2.2, -2.3, -2.0, -1.0, -0.3, 0.0, 0.0, 0.0, 0.0, 0.0, 0.0, 0.0],
    [0.0, 0.3, 0.8, 0.3, -0.5, 0.0, 0.5, 0.0, 0.5, 0.8, 0.3, 0.5, 0.0, 0.0, 0.0, 0.0, 0.0, 0.0],
    [-0.5, 0.0, -0.3, 0.0, 0.5, 0.3, -0.2, -0.8, 0.0, 0.5, 0.0, -0.2, 0.3, 0.0, 0.0, 0.0, 0.0, 0.0],
]
CA19_MA = [
    [-2.5, -2.0, -3.0, -4.0, -4.6, -4.8, -3.0, -2.0, -1.0, -0.5, 0.0, 0.3, 0.0, 0.0, 0.0, 0.0, 0.0, 0.0],
    [-2.0, -1.5, -0.5, -1.0, -2.0, -2.3, -2.0, -1.5, -2.5, -2.0, -1.5, -0.8, -1.5, -1.0, -0.3, -0.6, 0.0, 0.0],
    [-1.0, -0.5, 0.5, 1.0, 0.5, 0.0, 0.8, 1.5, 1.0, 0.0, 0.5, 1.0, 0.5, 0.0, -0.2, 0.0, 0.0, 0.0],
    [0.0, -0.8, -1.5, -1.0, 0.0, 1.0, 1.3, 0.5, -0.5, 0.5, 1.2, 0.8, 0.0, -0.5, -0.5, 0.0, 0.0, 0.0],
    [-1.5, -1.0, -1.8, -2.0, -1.5, -1.0, -1.5, -2.0, -1.5, -0.8, -0.3, -0.5, -1.0, -0.5, 0.0, 0.0, 0.0, 0.0],
    [0.3, 0.8, 1.0, 0.5, 0.0, -0.5, 0.0, 0.8, 1.5, 1.2, 0.5, 0.0, 0.8, 0.5, 0.3, 0.0, 0.0, 0.0],
    [-0.5, 0.0, 0.5, 1.0, 1.2, 0.5, -0.5, -1.0, 0.0, 1.0, 1.5, 1.0, 0.3, 0.0, 0.0, 0.0, 0.0, 0.0],
    [-1.2, -1.5, -1.0, 0.0, 0.5, 0.0, -1.0, -0.5, 0.5, 0.0, -1.0, -1.5, -0.5, -0.8, -0.2, 0.0, 0.0, 0.0],
    [0.5, 0.0, -0.5, -0.8, -0.3, 0.5, 1.0, 0.3, -0.3, -0.8, -0.5, 0.5, 1.0, 0.3, 0.0, 0.0, 0.0, 0.0],
    [-0.8, -1.2, -0.3, 0.3, -0.3, -1.0, -0.8, 0.0, 1.0, 1.3, 0.5, -0.3, -0.3, -0.5, -0.3, -0.2, 0.0, 0.0],
    [-1.8, -1.0, 0.0, -0.5, -1.2, -0.5, 0.5, 1.0, 0.3, -0.5, -1.2, -0.8, 0.0, 0.3, 0.0, 0.0, 0.0, 0.0],
    [0.2, -0.3, -0.8, -0.3, 0.3, 0.8, 0.3, -0.3, -0.8, -0.3, 0.3, 0.8, 0.5, 0.0, 0.0, -0.1, 0.0, 0.0],
]
CA19_MB = [
    [-1.5, -2.0, -2.5, -3.0, -3.2, -2.5, -1.5, -0.5, 0.0, 0.5, 0.0, 0.0, 0.0, 0.0, 0.0, 0.0, 0.0, 0.0],
    [-2.0, -2.5, -2.0, -2.8, -3.0, -2.0, -0.5, 0.5, 1.0, 0.5, 0.0, -0.5, -1.0, -1.5, -0.5, 0.0, 0.0, 0.0],
    [-0.5, -1.0, -1.5, -1.0, 0.0, 1.0, 1.3, 0.5, -0.5, -1.5, -1.0, -0.3, 0.5, 0.2, 0.0, 0.0, 0.0, 0.0],
    [0.0, 0.5, 1.0, 0.5, -0.5, -1.0, -0.5, 0.3, 0.8, 0.3, -0.5, 0.0, 0.3, 0.0, 0.0, 0.0, 0.0, 0.0],
    [-1.0, -0.5, 0.0, -0.5, -1.5, -2.0, -1.5, -1.0, -1.5, -2.0, -1.2, -0.5, 0.0, 0.0, 0.0, 0.0, 0.0, 0.0],
    [-0.3, 0.3, 0.5, 1.0, 0.8, 0.3, -0.3, -0.8, -0.3, 0.3, 0.8, 1.0, 0.3, 0.0, 0.0, 0.0, 0.0, 0.0],
    [-1.2, -0.8, -0.3, 0.0, -0.5, -1.0, -0.8, 0.0, 0.5, 0.0, -0.3, 0.3, 0.0, -0.3, 0.0, 0.0, 0.0, 0.0],
    [0.3, 0.0, -0.5, -1.2, -1.0, -0.3, 0.3, 0.0, -0.5, -1.0, -0.5, 0.0, 0.3, 0.3, 0.2, 0.0, 0.0, 0.0],
    [-0.8, -1.5, -1.0, -0.3, 0.3, 0.5, 0.0, -0.5, 0.0, 0.5, 0.5, -0.5, -0.5, 0.0, 0.0, 0.0, 0.0, 0.0],
    [0.0, -0.3, 0.3, 0.5, 0.0, -0.3, -0.8, -1.2, -0.8, 0.0, 0.3, 0.0, -0.2, 0.0, 0.0, 0.0, 0.0, 0.0],
    [-0.5, 0.0, 0.0, -0.3, -0.8, -0.5, 0.3, 0.8, 0.3, -0.3, -0.8, -0.3, 0.2, 0.1, 0.0, 0.0, 0.0, 0.0],
    [-1.5, -1.0, -0.5, 0.0, 0.3, 0.0, -0.3, 0.3, 0.8, 0.8, 0.3, 0.2, 0.0, 0.0, 0.0, 0.0, 0.0, 0.0],
]
CA19_STD = {
    "COSMIC-1": [0.45, 0.45, 0.45, 0.45, 0.5, 0.6, 0.7, 1.0, 1.05, 1.0, 0.5, 0.3, 0.2, 0.15, 0.1, 0.05, 0.0, 0.0],
    "MetOp-A": [0.68, 0.8, 1.0, 1.13, 1.0, 0.7, 0.56, 0.7, 0.8, 0.7, 0.6, 0.56, 0.5, 0.45, 0.3, 0.15, 0.05, 0.0],
    "MetOp-B": [0.8, 0.9, 1.1, 1.24, 1.1, 0.85, 0.75, 0.6, 0.56, 0.5, 0.5, 0.45, 0.4, 0.35, 0.2, 0.1, 0.02, 0.0],
}
CA19_MEAN = {
    "COSMIC-1": [-0.8, -0.6, -0.2, 0.22, 0.0, -0.2, -0.15, -0.05, 0.0, 0.0, -0.1, 0.0, -0.1, -0.2, -0.2, 0.0, 0.0, 0.0],
    "MetOp-A": [-2.0, -1.2, -0.3, 0.5, 0.65, 0.68, 0.4, -1.35, -1.5, -0.1, -0.3, -0.1, 0.0, 0.0, 0.0, 0.0, 0.0, 0.0],
    "MetOp-B": [-0.8, -1.5, -2.2, -3.0, -2.6, -1.2, -0.4, -0.05, 0.0, 0.0, 0.0, 0.0, 0.0, 0.0, 0.0, 0.0, 0.0, 0.0],
}

# ---------------- UK 2020 ----------------
UK20_C2 = [
    [-4.3, -3.0, -1.5, -0.5, 0.5, 1.5, 2.5, 2.0, 1.0, 0.0, -0.5, 0.0, 0.2, 0.0, 0.0, 0.0, 0.0, 0.0],
    [-4.0, -3.5, -2.5, -3.8, -2.5, -1.0, 0.0, 0.5, -0.5, -1.5, -1.0, 0.0, 0.0, 0.0, 0.0, 0.0, 0.0, 0.0],
    [-3.0, -2.0, -1.0, 0.0, 1.5, 2.8, 3.6, 2.5, 1.5, 0.5, 0.0, 0.5, 0.0, 0.0, 0.0, 0.0, 0.0, 0.0],
    [-2.5, -3.5, -3.0, -2.0, -1.0, -1.5, -2.5, -3.0, -2.5, -1.5, -1.0, -0.5, -0.3, 0.0, 0.0, 0.0, 0.0, 0.0],
    [-1.5, -2.5, -3.0, -2.5, -2.0, -2.5, -2.0, -1.0, -0.5, -2.0, -2.5, -1.0, 0.0, 0.0, 0.0, 0.0, 0.0, 0.0],
    [-2.0, -1.5, -0.5, 0.5, 1.0, 0.0, -1.0, 0.0, 1.0, 1.5, 1.0, 0.5, 0.5, 0.2, 0.0, 0.0, 0.0, 0.0],
    [-0.5, -1.0, -2.0, -1.5, -0.5, 0.5, 1.5, 2.5, 1.0, 0.0, 0.5, 1.0, 0.8, 0.3, 0.0, 0.0, 0.0, 0.0],
    [-3.5, -2.8, -2.0, -1.5, -2.5, -3.0, -1.5, 0.0, -1.0, -2.8, -1.5, -0.8, -0.5, -0.2, 0.0, 0.0, 0.0, 0.0],
    [0.3, 0.0, -1.0, -2.0, -1.5, -0.5, 0.5, 1.0, 1.8, 1.0, 0.0, -0.8, -0.3, 0.0, 0.0, 0.0, 0.0, 0.0],
    [-1.0, -2.0, -1.5, -0.5, 0.0, -1.0, -1.5, -0.8, 0.0, 0.8, 1.5, 1.2, 0.5, 0.0, 0.0, 0.0, 0.0, 0.0],
    [-4.0, -3.0, -3.5, -2.0, -1.0, 0.5, 1.0, 0.0, -0.5, 0.5, 0.3, -0.3, 0.5, 0.3, 0.0, 0.0, 0.0, 0.0],
    [-2.2, -1.2, 0.0, 0.5, -0.5, -1.5, -2.8, -2.0, -1.0, -0.3, -0.8, -1.2, -0.5, 0.0, 0.0, 0.0, 0.0, 0.0],
    [0.5, 0.2, -0.5, 0.0, 0.8, 1.5, 1.0, -0.5, -1.5, -1.0, 0.0, 0.8, 1.0, 0.3, 0.0, 0.0, 0.0, 0.0],
    [-1.8, -2.8, -2.0, -1.0, 0.3, 0.8, 0.0, -1.5, -2.0, -0.8, 0.5, 0.0, -0.5, -0.3, 0.0, 0.0, 0.0, 0.0],
    [-3.0, -1.8, -1.0, -1.8, -2.8, -2.0, -0.5, 0.5, 0.0, -1.0, -1.8, -0.5, 0.3, 0.3, 0.1, 0.0, 0.0, 0.0],
    [-1.2, -0.5, 0.3, 1.0, 1.8, 1.2, 0.3, 1.0, 2.0, 1.3, 0.5, -0.3, 0.0, -0.2, 0.0, 0.0, 0.0, 0.0],
    [-2.8, -2.2, -2.8, -3.5, -2.0, -1.2, -0.8, -1.8, -2.8, -2.2, -1.0, -0.2, 0.0, 0.0, 0.0, 0.0, 0.0, 0.0],
    [-0.8, -1.5, -0.8, 0.3, 0.8, 2.0, 2.8, 1.5, 0.5, -0.5, -1.5, -0.8, 0.2, 0.0, 0.0, 0.0, 0.0, 0.0],
    [-3.8, -2.5, -1.8, -0.8, -1.5, -2.2, -1.2, -0.3, 0.5, 0.0, -0.5, 0.3, 0.0, 0.0, 0.0, 0.0, 0.0, 0.0],
    [-1.5, -0.8, -1.5, -2.5, -1.8, -0.8, 0.0, 0.8, -0.2, -1.5, -2.0, -1.5, -0.3, 0.0, 0.0, 0.0, 0.0, 0.0],
    [-2.0, -3.0, -2.2, -1.0, -0.2, 0.3, -0.5, -1.2, 0.2, 1.2, 1.0, 0.5, 0.2, 0.0, 0.0, 0.0, 0.0, 0.0],
]
UK20_C1 = [
    [-0.5, 0.0, 0.5, 1.0, 1.5, 1.8, 1.5, 1.8, 2.0, 1.5, 1.2, 0.5, 0.0, 0.0, 0.0, 0.0, 0.0, 0.0],
    [0.3, -0.3, -0.5, 0.0, 0.5, 0.3, 0.0, 0.5, 1.0, 0.5, 0.0, 0.3, 0.0, 0.0, 0.0, 0.0, 0.0, 0.0],
]
UK20_MA = [
    [-0.5, -1.0, -0.5, 0.0, 0.5, 0.0, -0.5, -1.5, -2.5, -3.7, -2.5, -0.5, 0.0, -0.5, 0.0, 0.0, 0.0, 0.0],
    [0.8, 0.5, 0.0, -0.5, -1.0, -0.5, 0.0, 0.5, 0.0, -0.5, 0.0, -0.3, -0.8, -1.0, -0.3, 0.0, 0.0, 0.0],
    [0.0, -0.5, -1.2, -1.0, -0.5, -1.0, -1.5, -1.0, -0.3, 0.3, 0.0, 0.2, 0.0, 0.0, 0.0, 0.0, 0.0, 0.0],
    [-1.0, -0.3, 0.5, 0.3, -0.3, 0.0, 0.5, 0.0, -0.5, -0.3, 0.3, 0.0, 0.0, 0.0, 0.0, 0.0, 0.0, 0.0],
]
UK20_MB = [
    [-1.5, -1.0, -0.5, 0.0, 0.5, 1.0, 1.5, 1.0, 0.5, 0.0, -0.5, 0.0, 0.3, 0.0, 0.0, 0.0, 0.0, 0.0],
    [-0.5, 0.0, 0.5, 0.0, -1.0, -1.5, -1.0, -0.5, 0.0, 0.5, 0.0, -0.5, -0.8, 0.0, 0.0, 0.0, 0.0, 0.0],
    [0.0, 0.5, 1.0, 0.5, 0.0, -0.5, 0.0, 1.0, 1.5, 1.0, 0.5, 0.3, 0.0, 0.0, 0.0, 0.0, 0.0, 0.0],
    [-2.0, -1.5, -1.0, -1.5, -1.0, 0.0, 0.5, 0.0, -1.0, -1.5, -0.5, 0.0, 0.0, 0.0, 0.0, 0.0, 0.0, 0.0],
    [0.5, 0.0, -0.3, -0.8, -0.3, 0.3, 0.8, 0.3, -0.3, 0.0, 0.5, 0.5, 0.2, 0.0, 0.0, 0.0, 0.0, 0.0],
    [-0.8, -1.2, -0.5, 0.3, 0.8, 0.3, -0.3, -0.8, -0.3, 0.3, 0.8, 0.3, -0.3, -0.2, 0.0, 0.0, 0.0, 0.0],
    [-0.3, 0.3, 0.0, -0.5, 0.0, 0.5, 0.3, -0.3, 0.5, 0.8, 0.0, -0.5, -0.3, 0.0, 0.0, 0.0, 0.0, 0.0],
    [-1.2, -0.5, 0.3, 0.8, 0.3, -0.3, -0.8, -0.3, 0.3, -0.3, -0.8, -0.3, 0.3, 0.3, 0.0, 0.0, 0.0, 0.0],
]
UK20_MC = [
    [-4.5, -3.0, -1.5, -1.0, -0.5, 0.0, 0.5, 1.0, 0.5, 0.0, -0.5, 0.0, 0.0, 0.0, 0.0, 0.0, 0.0, 0.0],
    [-2.5, -1.5, -2.0, -3.0, -2.5, -1.5, -1.0, -2.0, -1.0, -0.5, 0.0, -0.3, 0.0, 0.0, 0.0, 0.0, 0.0, 0.0],
    [-1.0, -2.0, -1.5, -0.5, 0.5, 1.0, 0.5, 0.0, 1.0, 1.5, 1.0, 0.5, 0.3, 0.0, 0.0, 0.0, 0.0, 0.0],
    [0.0, -0.5, -1.0, -2.0, -1.5, -0.5, 0.0, -0.5, -1.5, -1.0, -0.5, -1.0, -1.2, -0.3, 0.0, 0.0, 0.0, 0.0],
    [-1.8, -1.0, 0.0, 0.5, 0.0, -1.0, -2.0, -1.5, 0.0, 0.5, 0.0, 0.3, 0.0, 0.0, 0.0, 0.0, 0.0, 0.0],
    [0.5, 0.0, -0.5, 0.0, 1.0, 1.5, 1.0, 0.5, 0.0, -0.5, 0.5, 0.8, 0.3, 0.0, 0.0, 0.0, 0.0, 0.0],
    [-0.5, -1.2, -0.8, 0.0, -0.5, -1.0, -0.5, 0.5, 0.8, 0.3, -0.3, 0.0, 0.5, 0.2, 0.0, 0.0, 0.0, 0.0],
    [-3.0, -2.0, -1.0, -1.5, -2.0, -2.5, -1.5, -0.5, -1.2, -2.0, -1.0, -0.5, 0.0, 0.0, 0.0, 0.0, 0.0, 0.0],
    [-0.2, 0.3, 0.8, 0.3, -0.3, 0.0, 0.5, 0.3, -0.3, -0.8, -0.3, 0.3, 0.0, -0.2, 0.0, 0.0, 0.0, 0.0],
    [-1.2, -0.5, -0.2, -0.8, -1.2, -0.3, 0.3, 1.0, 0.5, 0.0, 0.8, 0.3, -0.3, 0.0, 0.0, 0.0, 0.0, 0.0],
]
UK20_STD = {
    "COSMIC-1": [0.4, 0.5, 0.6, 0.75, 0.85, 0.95, 0.97, 1.05, 1.08, 0.9, 0.74, 0.45, 0.35, 0.3, 0.1, 0.03, 0.0, 0.0],
    "COSMIC-2": [1.4, 1.3, 1.2, 1.2, 1.25, 1.3, 1.3, 1.25, 1.2, 1.0, 0.85, 0.4, 0.2, 0.1, 0.05, 0.02, 0.0, 0.0],
    "MetOp-A": [0.63, 0.65, 0.68, 0.7, 0.72, 0.74, 0.74, 0.8, 0.9, 0.97, 0.7, 0.55, 0.45, 0.4, 0.2, 0.05, 0.0, 0.0],
    "MetOp-B": [0.3, 0.32, 0.35, 0.38, 0.4, 0.4, 0.4, 0.5, 0.63, 0.45, 0.3, 0.2, 0.1, 0.05, 0.02, 0.0, 0.0, 0.0],
    "MetOp-C": [0.97, 0.85, 0.74, 0.7, 0.68, 0.65, 0.63, 0.7, 1.08, 0.8, 0.63, 0.3, 0.15, 0.05, 0.02, 0.0, 0.0, 0.0],
}
UK20_MEAN = {
    "COSMIC-1": [0.18, 0.22, 0.3, 0.8, 1.4, 1.9, 2.2, 2.15, 2.1, 1.9, 1.64, 0.4, 0.2, 0.0, 0.0, 0.0, 0.0, 0.0],
    "COSMIC-2": [-4.2, -3.5, -1.5, -1.3, -0.9, -0.7, -0.5, 0.07, 0.3, 0.3, -0.27, 0.0, 0.0, 0.0, 0.0, 0.0, 0.0, 0.0],
    "MetOp-A": [0.07, 0.0, -0.15, -0.35, -0.6, -0.5, -0.4, -0.1, 0.0, 0.0, 0.0, 0.0, 0.0, 0.0, 0.0, 0.0, 0.0, 0.0],
    "MetOp-B": [0.07, 0.05, 0.0, 0.0, 0.0, 0.0, 0.0, -0.05, -0.15, -0.1, 0.0, 0.0, 0.0, 0.0, 0.0, 0.0, 0.0, 0.0],
    "MetOp-C": [-0.95, -1.05, -0.5, 0.07, 0.6, 0.63, 0.63, 0.63, 0.9, 1.05, 0.4, 0.2, 0.0, 0.0, 0.0, 0.0, 0.0, 0.0],
}

PANELS = [
    dict(title="Iceland-UK 2009",
         profiles={"COSMIC-1": ICE_C1, "MetOp-A": ICE_MA, "GRACE": ICE_GR, "TSX": ICE_TSX},
         std=ICE_STD, mean=ICE_MEAN, colors=SAT_COLORS, mean_colors=SAT_COLORS),
    dict(title="Southern Africa 2009",
         profiles={"COSMIC-1": SA_C1, "MetOp-A": SA_MA, "GRACE": SA_GR, "TSX": SA_TSX},
         std=SA_STD, mean=SA_MEAN, colors=SAT_COLORS, mean_colors=SAT_COLORS),
    dict(title="UK 2015",
         profiles={"COSMIC-1": UK15_C1, "MetOp-A": UK15_MA, "MetOp-B": UK15_MB, "GRACE": UK15_GR, "TSX": UK15_TSX},
         std=UK15_STD, mean=UK15_MEAN, colors=SAT_COLORS, mean_colors=SAT_COLORS),
    dict(title="California 2017",
         profiles={"COSMIC-1": CA17_C1, "MetOp-A": CA17_MA, "MetOp-B": CA17_MB, "GRACE": CA17_GR},
         std=CA17_STD, mean=CA17_MEAN, colors=SAT_COLORS, mean_colors=SAT_COLORS),
    dict(title="California 2019",
         profiles={"COSMIC-1": CA19_C1, "MetOp-A": CA19_MA, "MetOp-B": CA19_MB},
         std=CA19_STD, mean=CA19_MEAN, colors=SAT_COLORS, mean_colors=SAT_COLORS),
    dict(title="UK 2020",
         profiles={"COSMIC-2": UK20_C2, "COSMIC-1": UK20_C1, "MetOp-A": UK20_MA, "MetOp-B": UK20_MB, "MetOp-C": UK20_MC},
         std=UK20_STD, mean=UK20_MEAN, colors=SAT_COLORS_2020, mean_colors=MEAN_COLORS_2020),
]

# layout geometry in page pixels
COLS = [(60, 530, 553, 1023), (1097, 1566, 1588, 2057)]
ROWS = [(61, 501), (651, 1091), (1239, 1679)]
TITLE_POS = [(567, 21), (1569, 21), (510, 605), (1546, 605), (555, 1194), (1562, 1194)]

FONT = "DejaVu Sans"
TEXT = "#222222"
SPINE = "#3a3a3a"


def fx(px):
    return px / W


def fy(py):
    return 1 - py / H


def ids(k):
    n = "" if k == 0 else str(k + 1)
    return "x" + n, "y" + n, "legend" + n


def check(name, prof):
    if len(prof) != len(ALT):
        raise ValueError(f"{name}: {len(prof)} values, expected {len(ALT)}")


fig = go.Figure()
layout = dict(width=W, height=H, margin=dict(l=0, r=0, t=0, b=0, autoexpand=False),
              paper_bgcolor="white", plot_bgcolor="white",
              font=dict(family=FONT, size=17, color=TEXT),
              showlegend=True, shapes=[], annotations=[])

axis_common = dict(showgrid=True, gridcolor="#c9c9c9", gridwidth=1.2, zeroline=False,
                   showline=True, mirror=True, linecolor=SPINE, linewidth=1.4,
                   ticks="outside", ticklen=5, tickwidth=1.2, tickcolor=SPINE,
                   automargin=False, ticklabeloverflow="allow",
                   tickfont=dict(family=FONT, size=17, color=TEXT))

for p, panel in enumerate(PANELS):
    r, c = divmod(p, 2)
    top, bot = ROWS[r]
    lx0, lx1, rx0, rx1 = COLS[c]
    ydom = [fy(bot), fy(top)]
    kl, kr = 2 * p, 2 * p + 1

    for k, (x0, x1) in ((kl, (lx0, lx1)), (kr, (rx0, rx1))):
        xa, ya, lg = ids(k)
        left = k == kl
        layout["xaxis" + xa[1:]] = dict(
            axis_common, domain=[fx(x0), fx(x1)], anchor=ya, range=[-8, 8], tickvals=X_TICKS,
            title=dict(text=("Specific humidity difference (g kg<sup>−1</sup> )" if left
                             else "Standard deviation and mean q (g kg<sup>−1</sup>)"),
                       font=dict(family=FONT, size=19, color=TEXT), standoff=5))
        yaxis = dict(axis_common, domain=ydom, anchor=xa, range=[0, 12], tickvals=Y_TICKS,
                     showticklabels=left)
        if left:
            yaxis["title"] = dict(text="Altitude (km)", font=dict(family=FONT, size=19, color=TEXT),
                                  standoff=1)
        layout["yaxis" + ya[1:]] = yaxis
        for ref in REF_ALT:
            layout["shapes"].append(dict(type="line", xref=xa + " domain", yref=ya,
                                         x0=0, x1=1, y0=ref, y1=ref, layer="above",
                                         line=dict(color="#2a2a2a", width=1.1, dash="4px,2.5px")))
        legend = dict(yanchor="top", y=fy(top + 8),
                      bgcolor="rgba(255,255,255,0.85)", bordercolor="#cfcfcf", borderwidth=1,
                      font=dict(family=FONT, size=15.5, color=TEXT), tracegroupgap=0,
                      itemwidth=30, traceorder="normal")
        if left:
            legend.update(x=fx(x1 - 8), xanchor="right")
        else:
            legend.update(x=fx(x0 + 8), xanchor="left")
        layout[lg] = legend

    # individual difference profiles
    xa, ya, lg = ids(kl)
    for sat, profiles in panel["profiles"].items():
        xs, ys = [], []
        for i, prof in enumerate(profiles):
            check(f"{panel['title']} {sat} #{i}", prof)
            xs += list(prof) + [None]
            ys += ALT + [None]
        fig.add_trace(go.Scatter(x=xs, y=ys, mode="lines", name=sat, xaxis=xa, yaxis=ya,
                                 legend=lg, hoverinfo="skip",
                                 line=dict(color=panel["colors"][sat], width=1.4,
                                           shape="spline", smoothing=0.8)))

    # standard deviation and mean profiles
    xa, ya, lg = ids(kr)
    for sat in panel["std"]:
        check(f"{panel['title']} {sat} StD", panel["std"][sat])
        check(f"{panel['title']} {sat} mean", panel["mean"][sat])
        fig.add_trace(go.Scatter(x=panel["std"][sat], y=ALT, mode="lines", name=f"{sat} StD",
                                 xaxis=xa, yaxis=ya, legend=lg, hoverinfo="skip",
                                 line=dict(color=panel["colors"][sat], width=1.6,
                                           dash="6px,3px", shape="spline", smoothing=0.8)))
        fig.add_trace(go.Scatter(x=panel["mean"][sat], y=ALT, mode="lines", name=f"Mean q ({sat})",
                                 xaxis=xa, yaxis=ya, legend=lg, hoverinfo="skip",
                                 line=dict(color=panel["mean_colors"][sat], width=1.8,
                                           shape="spline", smoothing=0.8)))

    tx, ty = TITLE_POS[p]
    layout["annotations"].append(dict(text=panel["title"], x=fx(tx), y=fy(ty),
                                      xref="paper", yref="paper", showarrow=False,
                                      xanchor="center", yanchor="middle",
                                      font=dict(family="Liberation Serif", size=33, color="#111111")))

fig.update_layout(layout)
# drop the page's default body margin so the figure fills the window exactly
fig.write_html("out.html", config={"displayModeBar": False},
               post_script="document.body.style.margin='0px';")
